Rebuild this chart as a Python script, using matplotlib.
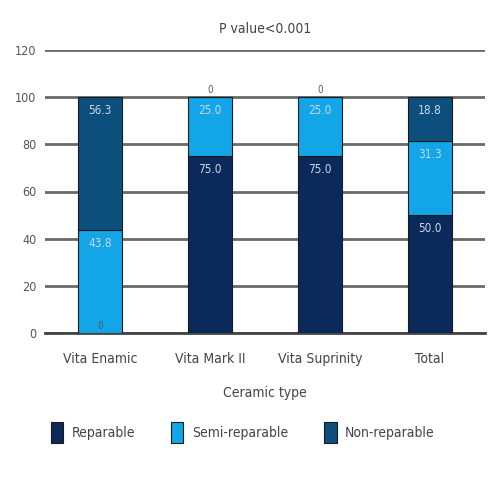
import matplotlib
matplotlib.use("Agg")
import matplotlib.pyplot as plt
from matplotlib import font_manager
import numpy as np

categories = ["Vita Enamic", "Vita Mark II", "Vita Suprinity", "Total"]
reparable = [0.0, 75.0, 75.0, 50.0]
semi_reparable = [43.8, 25.0, 25.0, 31.3]
non_reparable = [56.3, 0.0, 0.0, 18.8]
series_names = ["Reparable", "Semi-reparable", "Non-reparable"]
colors = ["#0b2a5b", "#12a5e8", "#0d4f7c"]
yticks = [0, 20, 40, 60, 80, 100, 120]

names = {f.name for f in font_manager.fontManager.ttflist}
fam = [n for n in ["Liberation Sans Narrow", "DejaVu Sans Condensed"] if n in names]
plt.rcParams['font.family'] = fam + ['DejaVu Sans']
plt.rcParams['font.stretch'] = 'condensed'

fig = plt.figure(figsize=(5, 5), dpi=100)
ax = fig.add_axes([0.09, 0.334, 0.88, 0.566])

x = np.arange(len(categories))
bottom = np.zeros(len(categories))
for vals, name, col in zip([reparable, semi_reparable, non_reparable], series_names, colors):
    vals = np.array(vals)
    ax.bar(x, vals, 0.4, bottom=bottom, color=col, edgecolor="#1a1a1a", linewidth=0.8,
           label=name, zorder=3)
    for xi, b, v in zip(x, bottom, vals):
        if v > 0:
            ax.text(xi, b + v - 3, f"{v:.1f}", ha="center", va="top", color="#c8d8e8",
                    fontsize=8.5, zorder=4)
        else:
            ax.text(xi, b + 1, "0", ha="center", va="bottom", color="#555555",
                    fontsize=7, zorder=4)
    bottom = bottom + vals

ax.set_xlim(-0.5, 3.5)
ax.set_ylim(0, 120)
ax.set_yticks(yticks)
ax.set_yticklabels([str(t) for t in yticks], color="#555555", fontsize=9)
ax.set_xticks(x)
ax.set_xticklabels(categories, color="#444444", fontsize=10)
ax.tick_params(axis="y", length=0, pad=6)
ax.tick_params(axis="x", length=0, pad=14)
ax.yaxis.grid(True, color="#6a6a6a", linewidth=2.0, zorder=0)
ax.set_axisbelow(True)
for s in ["top", "right", "left"]:
    ax.spines[s].set_visible(False)
ax.spines["bottom"].set_color("#444444")
ax.spines["bottom"].set_linewidth(2.0)

ax.set_title("P value<0.001", color="#444444", fontsize=10, pad=12)
ax.set_xlabel("Ceramic type", color="#444444", fontsize=10, labelpad=14)

handles, labels = ax.get_legend_handles_labels()
fig.legend(handles, labels, loc="center", bbox_to_anchor=(0.485, 0.135), ncol=3,
           frameon=False, fontsize=10, handlelength=0.9, handleheight=1.9,
           handletextpad=0.6, columnspacing=2.6, labelcolor="#444444")

fig.savefig("out.png", dpi=100)
